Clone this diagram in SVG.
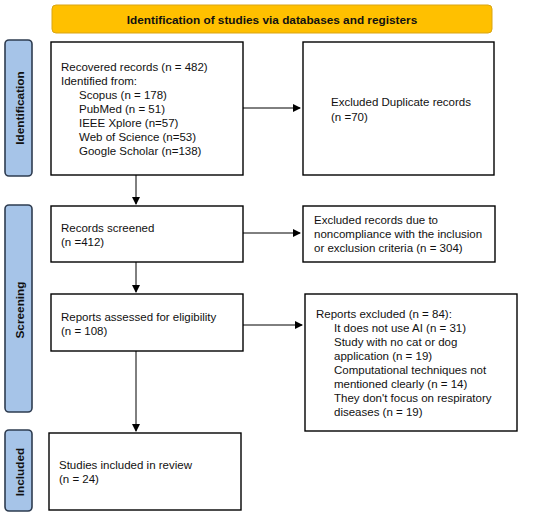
<svg xmlns="http://www.w3.org/2000/svg" width="550" height="517" viewBox="0 0 550 517">
<defs>
<marker id="ah" markerWidth="8" markerHeight="8" refX="7" refY="4" orient="auto" markerUnits="userSpaceOnUse">
<path d="M0,0 L8,4 L0,8 Z" fill="#000"/>
</marker>
<style>
.box{fill:#fff;stroke:#000;stroke-width:1.4}
.side{fill:#a6c4e8;stroke:#2e3c50;stroke-width:1.6}
.t{font-family:"Liberation Sans",Arial,sans-serif;font-size:11.5px;fill:#111}
.st{font-family:"Liberation Sans",Arial,sans-serif;font-size:11.8px;font-weight:bold;fill:#111}
.c{stroke:#000;stroke-width:1;fill:none;marker-end:url(#ah)}
</style>
</defs>
<rect width="550" height="517" fill="#fff"/>
<g id="header">
<rect x="52" y="5" width="440" height="28" rx="4" fill="#ffc000" stroke="#d9a514" stroke-width="1"/>
<text class="st" x="272" y="23.5" text-anchor="middle">Identification of studies via databases and registers</text>
</g>
<g id="side-identification">
<rect class="side" x="5" y="40" width="27" height="136" rx="4"/>
<text class="st" transform="translate(23.5,108) rotate(-90)" text-anchor="middle">Identification</text>
</g>
<g id="side-screening">
<rect class="side" x="5" y="205" width="27" height="207" rx="4"/>
<text class="st" transform="translate(23.5,310) rotate(-90)" text-anchor="middle">Screening</text>
</g>
<g id="side-included">
<rect class="side" x="5" y="430" width="27" height="81" rx="4"/>
<text class="st" transform="translate(23.5,472) rotate(-90)" text-anchor="middle">Included</text>
</g>
<g id="recovered">
<rect class="box" x="51" y="42" width="192" height="133"/>
<text class="t" x="61" y="71">Recovered records (n = 482)</text>
<text class="t" x="61" y="85">Identified from:</text>
<text class="t" x="79" y="99">Scopus (n = 178)</text>
<text class="t" x="79" y="113">PubMed (n = 51)</text>
<text class="t" x="79" y="127">IEEE Xplore (n=57)</text>
<text class="t" x="79" y="141">Web of Science (n=53)</text>
<text class="t" x="79" y="155">Google Scholar (n=138)</text>
</g>
<g id="duplicates">
<rect class="box" x="303" y="42" width="191" height="133"/>
<text class="t" x="331" y="106">Excluded Duplicate records</text>
<text class="t" x="331" y="121">(n =70)</text>
</g>
<g id="screened">
<rect class="box" x="51" y="206" width="192" height="56"/>
<text class="t" x="61" y="232">Records screened</text>
<text class="t" x="61" y="246">(n =412)</text>
</g>
<g id="excluded-records">
<rect class="box" x="303" y="206" width="192" height="56"/>
<text class="t" x="314" y="223.5">Excluded records due to</text>
<text class="t" x="314" y="237.5">noncompliance with the inclusion</text>
<text class="t" x="314" y="251.5">or exclusion criteria (n = 304)</text>
</g>
<g id="assessed">
<rect class="box" x="51" y="294" width="192" height="57"/>
<text class="t" x="61" y="321">Reports assessed for eligibility</text>
<text class="t" x="61" y="335">(n = 108)</text>
</g>
<g id="reports-excluded">
<rect class="box" x="305" y="294" width="212" height="137"/>
<text class="t" x="316" y="318">Reports excluded (n = 84):</text>
<text class="t" x="334" y="332">It does not use AI (n = 31)</text>
<text class="t" x="334" y="346">Study with no cat or dog</text>
<text class="t" x="334" y="360">application (n = 19)</text>
<text class="t" x="334" y="374">Computational techniques not</text>
<text class="t" x="334" y="388">mentioned clearly (n = 14)</text>
<text class="t" x="334" y="402">They don't focus on respiratory</text>
<text class="t" x="334" y="416">diseases (n = 19)</text>
</g>
<g id="included">
<rect class="box" x="49" y="433" width="192" height="77"/>
<text class="t" x="59" y="469">Studies included in review</text>
<text class="t" x="59" y="483">(n = 24)</text>
</g>
<g id="connectors">
<line class="c" x1="243" y1="108" x2="300" y2="108"/>
<line class="c" x1="136" y1="175" x2="136" y2="204"/>
<line class="c" x1="243" y1="233" x2="300" y2="233"/>
<line class="c" x1="136" y1="262" x2="136" y2="292"/>
<line class="c" x1="243" y1="325" x2="302" y2="325"/>
<line class="c" x1="136" y1="351" x2="136" y2="431"/>
</g>
</svg>
